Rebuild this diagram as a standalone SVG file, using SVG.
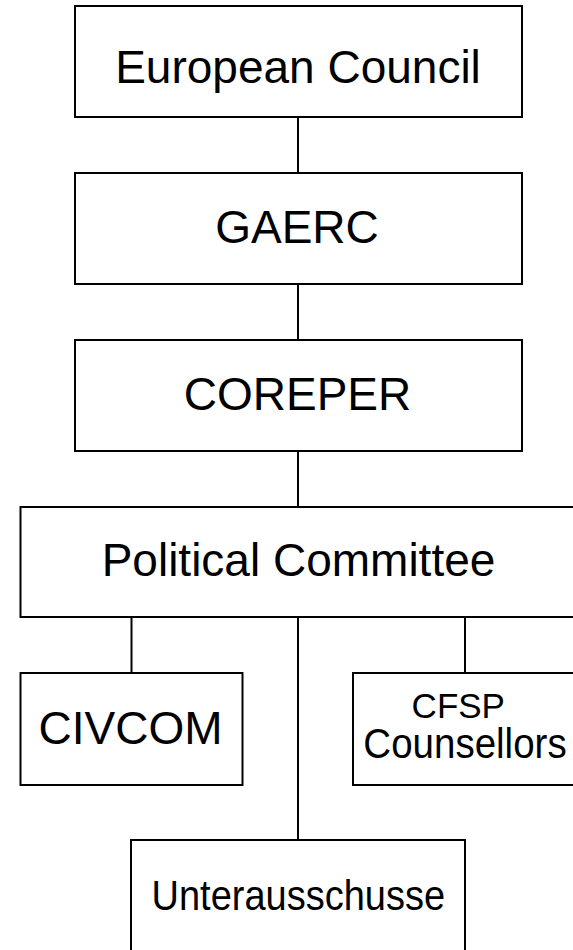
<svg xmlns="http://www.w3.org/2000/svg" width="573" height="950" viewBox="0 0 573 950">
<style>
.box{fill:#ffffff;stroke:#000000;stroke-width:2}
.lbl{font-family:"Liberation Sans",Arial,sans-serif;font-size:46px;fill:#000000;text-anchor:middle}
.conn line{stroke:#000000;stroke-width:2}
</style>
<rect x="0" y="0" width="573" height="950" fill="#ffffff"/>
<g id="connectors" class="conn">
<line x1="298" y1="117" x2="298" y2="173"/>
<line x1="298" y1="284" x2="298" y2="340"/>
<line x1="298" y1="451" x2="298" y2="507"/>
<line x1="298" y1="617" x2="298" y2="840"/>
<line x1="131.5" y1="617" x2="131.5" y2="673"/>
<line x1="465" y1="617" x2="465" y2="673"/>
</g>
<g id="european-council">
<rect class="box" x="75" y="6" width="447" height="111"/>
<text class="lbl" x="298" y="83">European Council</text>
</g>
<g id="gaerc">
<rect class="box" x="75" y="173" width="447" height="111"/>
<text class="lbl" x="297" y="243">GAERC</text>
</g>
<g id="coreper">
<rect class="box" x="75" y="340" width="447" height="111"/>
<text class="lbl" x="297.5" y="410">COREPER</text>
</g>
<g id="political-committee">
<rect class="box" x="20.5" y="507" width="570" height="110"/>
<text class="lbl" x="298.5" y="576">Political Committee</text>
</g>
<g id="civcom">
<rect class="box" x="20.5" y="673" width="222" height="112"/>
<text class="lbl" x="130.5" y="744">CIVCOM</text>
</g>
<g id="cfsp-counsellors">
<rect class="box" x="353" y="673" width="240" height="112"/>
<text class="lbl" x="458.3" y="717.5" style="font-size:35px">CFSP</text>
<text class="lbl" transform="translate(465,757.7) scale(1,1.1)" style="font-size:38.5px">Counsellors</text>
</g>
<g id="unterausschusse">
<rect class="box" x="131" y="840" width="334" height="130"/>
<text class="lbl" transform="translate(298.3,910) scale(1,1.1)" style="font-size:38px">Unterausschusse</text>
</g>
</svg>
